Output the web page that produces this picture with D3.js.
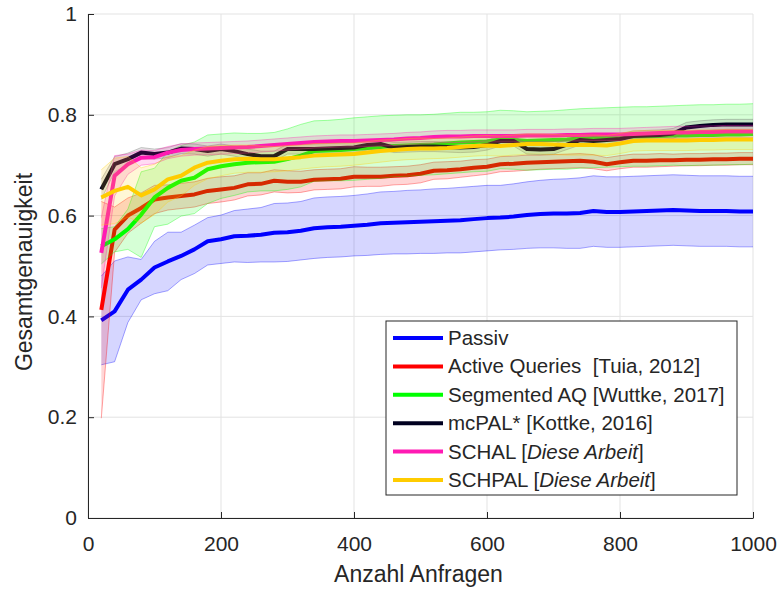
<!DOCTYPE html>
<html>
<head>
<meta charset="utf-8">
<script src="https://cdn.jsdelivr.net/npm/d3@7"></script>
<style>
  body { margin: 0; background: #fff; }
  svg text { font-family: "Liberation Sans", Arial, Helvetica, sans-serif; fill: #262626; }
  .grid line { stroke: #e3e3e3; stroke-width: 1; }
  .axis path, .axis line { stroke: #262626; }
</style>
</head>
<body>
<div id="chart"></div>
<script>
//data
var queries = [20, 40, 60, 80, 100, 120, 140, 160, 180, 200,
  220, 240, 260, 280, 300, 320, 340, 360, 380, 400,
  420, 440, 460, 480, 500, 520, 540, 560, 580, 600,
  620, 640, 660, 680, 700, 720, 740, 760, 780, 800,
  820, 840, 860, 880, 900, 920, 940, 960, 980, 1000];

var passivMean = [.392, .41, .453, .473, .497, .509, .52, .533, .549, .553,
  .559, .56, .562, .566, .567, .57, .575, .577, .578, .58,
  .582, .585, .586, .587, .588, .589, .59, .591, .593, .595,
  .596, .598, .601, .603, .604, .604, .605, .609, .607, .607,
  .608, .609, .61, .611, .61, .609, .609, .609, .608, .608];
var passivSd = [.088, .10, .065, .04, .052, .058, .047, .048, .047, .048,
  .051, .053, .054, .058, .058, .058, .06, .06, .06, .06,
  .061, .062, .062, .063, .063, .064, .064, .065, .065, .065,
  .064, .065, .066, .067, .068, .069, .07, .07, .07, .07,
  .07, .07, .07, .07, .07, .07, .07, .07, .07, .07];

var aqMean = [.413, .572, .60, .615, .632, .636, .639, .642, .649, .652,
  .655, .662, .663, .669, .667, .667, .671, .672, .673, .677,
  .677, .677, .679, .68, .683, .689, .69, .692, .695, .697,
  .702, .703, .705, .706, .707, .708, .709, .707, .702, .706,
  .709, .709, .71, .71, .711, .711, .712, .712, .713, .713];
var aqSd = [.215, .045, .035, .03, .028, .025, .025, .025, .025, .025,
  .024, .023, .022, .022, .022, .021, .02, .02, .02, .02,
  .019, .019, .018, .018, .018, .017, .017, .016, .016, .015,
  .015, .015, .015, .014, .014, .014, .014, .014, .013, .013,
  .013, .013, .013, .012, .012, .012, .012, .012, .012, .012];

var segMean = [.539, .553, .573, .602, .636, .655, .669, .675, .692, .698,
  .702, .705, .706, .707, .712, .719, .728, .729, .73, .732,
  .734, .736, .738, .739, .74, .741, .743, .745, .746, .747,
  .751, .75, .748, .749, .75, .751, .753, .754, .755, .756,
  .757, .757, .758, .759, .759, .76, .76, .761, .761, .762];
var segSd = [.035, .025, .04, .085, .058, .072, .07, .071, .068, .064,
  .062, .058, .057, .058, .06, .062, .06, .06, .061, .062,
  .062, .062, .061, .061, .06, .06, .06, .06, .059, .059,
  .058, .058, .058, .058, .058, .059, .059, .059, .059, .059,
  .059, .059, .059, .059, .06, .06, .06, .06, .06, .06];

var mcpalMean = [.652, .702, .712, .725, .722, .725, .733, .732, .728, .732,
  .728, .722, .718, .718, .732, .732, .732, .733, .734, .735,
  .74, .742, .735, .736, .737, .737, .736, .735, .736, .74,
  .748, .748, .732, .731, .732, .741, .75, .748, .75, .752,
  .758, .759, .76, .763, .775, .778, .78, .781, .781, .781];
var mcpalSd = [.02, .015, .012, .01, .01, .01, .01, .01, .01, .01,
  .01, .01, .01, .01, .01, .01, .01, .01, .01, .01,
  .01, .01, .01, .01, .01, .01, .01, .01, .01, .01,
  .01, .01, .01, .01, .01, .01, .01, .01, .01, .01,
  .01, .01, .01, .01, .01, .01, .01, .01, .01, .01];

var schalMean = [.526, .679, .702, .715, .716, .725, .73, .732, .733, .734,
  .735, .736, .738, .74, .742, .744, .746, .747, .748, .748,
  .749, .75, .751, .753, .754, .756, .757, .757, .758, .758,
  .758, .758, .759, .759, .759, .76, .76, .761, .761, .761,
  .762, .763, .764, .765, .765, .766, .766, .767, .767, .767];
var schalSd = [.07, .04, .02, .015, .013, .012, .012, .012, .012, .012,
  .012, .012, .012, .012, .012, .012, .012, .012, .012, .012,
  .012, .012, .012, .012, .012, .012, .012, .012, .012, .012,
  .012, .012, .012, .012, .012, .012, .012, .012, .012, .012,
  .012, .012, .012, .012, .012, .012, .012, .012, .012, .012];

var schpalMean = [.636, .649, .657, .64, .652, .672, .679, .695, .705, .709,
  .712, .713, .712, .712, .714, .716, .719, .72, .721, .722,
  .725, .728, .73, .732, .733, .733, .734, .736, .738, .739,
  .738, .74, .742, .742, .741, .74, .74, .74, .739, .743,
  .748, .749, .749, .749, .749, .75, .75, .751, .751, .751];
var schpalSd = [.055, .065, .06, .055, .05, .045, .04, .035, .032, .03,
  .028, .027, .026, .025, .025, .024, .024, .023, .023, .022,
  .022, .022, .021, .021, .021, .02, .02, .02, .02, .02,
  .02, .02, .02, .02, .02, .02, .02, .02, .02, .02,
  .02, .02, .02, .02, .02, .02, .02, .02, .02, .02];

var xTicks = [0, 200, 400, 600, 800, 1000];
var yTicks = [0, 0.2, 0.4, 0.6, 0.8, 1];
var xTickLabels = ["0", "200", "400", "600", "800", "1000"];
var yTickLabels = ["0", "0.2", "0.4", "0.6", "0.8", "1"];

var series = [
  {name: ["Passiv"], mean: passivMean, sd: passivSd, color: "#0000ff", fill: "#0000ff"},
  {name: ["Active Queries  [Tuia, 2012]"], mean: aqMean, sd: aqSd, color: "#ff0000", fill: "#ff0000"},
  {name: ["Segmented AQ [Wuttke, 2017]"], mean: segMean, sd: segSd, color: "#00ff00", fill: "#00ff00"},
  {name: ["mcPAL* [Kottke, 2016]"], mean: mcpalMean, sd: mcpalSd, color: "#000020", fill: "#666666"},
  {name: ["SCHAL [", "Diese Arbeit", "]"], mean: schalMean, sd: schalSd, color: "#ff1ab3", fill: "#ff1ab3"},
  {name: ["SCHPAL [", "Diese Arbeit", "]"], mean: schpalMean, sd: schpalSd, color: "#ffcc00", fill: "#ffcc00"}
];

//margin convention
var margin = {top: 14, right: 29, bottom: 73, left: 88},
    width = 782 - margin.left - margin.right,
    height = 591 - margin.top - margin.bottom;

var xScale = d3.scaleLinear().domain([0, 1000]).range([0, width]);
var yScale = d3.scaleLinear().domain([0, 1]).range([height, 0]);

var svg = d3.select("#chart").append("svg")
    .attr("width", 782)
    .attr("height", 591)
  .append("g")
    .attr("transform", "translate(" + margin.left + "," + margin.top + ")");

//grid
svg.append("g").attr("class", "grid")
  .selectAll("line").data(xTicks).enter().append("line")
  .attr("x1", d => xScale(d)).attr("x2", d => xScale(d))
  .attr("y1", 0).attr("y2", height);
svg.append("g").attr("class", "grid")
  .selectAll("line").data(yTicks).enter().append("line")
  .attr("x1", 0).attr("x2", width)
  .attr("y1", d => yScale(d)).attr("y2", d => yScale(d));

//bands and lines
var area = d3.area()
  .x((d, i) => xScale(queries[i]))
  .y0(d => yScale(d[0] - d[1]))
  .y1(d => yScale(d[0] + d[1]));
var line = d3.line()
  .x((d, i) => xScale(queries[i]))
  .y(d => yScale(d));

series.forEach(function(s) {
  var pts = s.mean.map((m, i) => [m, s.sd[i]]);
  svg.append("path")
    .datum(pts)
    .attr("d", area)
    .attr("fill", s.fill)
    .attr("fill-opacity", 0.16)
    .attr("stroke", "none");
  // thin band edges
  svg.append("path")
    .datum(pts.map(d => d[0] + d[1]))
    .attr("d", line)
    .attr("fill", "none").attr("stroke", s.fill).attr("stroke-opacity", 0.35).attr("stroke-width", 1);
  svg.append("path")
    .datum(pts.map(d => d[0] - d[1]))
    .attr("d", line)
    .attr("fill", "none").attr("stroke", s.fill).attr("stroke-opacity", 0.35).attr("stroke-width", 1);
  svg.append("path")
    .datum(s.mean)
    .attr("d", line)
    .attr("fill", "none")
    .attr("stroke", s.color)
    .attr("stroke-width", 4)
    .attr("stroke-linejoin", "round");
});

//axes
var xAxis = svg.append("g").attr("class", "axis")
  .attr("transform", "translate(0," + height + ")")
  .call(d3.axisBottom(xScale).tickValues(xTicks).tickSizeInner(-6).tickSizeOuter(0).tickPadding(18)
    .tickFormat((d, i) => xTickLabels[i]));
var yAxis = svg.append("g").attr("class", "axis")
  .call(d3.axisLeft(yScale).tickValues(yTicks).tickSizeInner(-6).tickSizeOuter(0).tickPadding(11)
    .tickFormat((d, i) => yTickLabels[i]));
svg.selectAll(".axis text").style("font-size", "21px").attr("fill", "#262626");
xAxis.selectAll("text").attr("dy", "0.71em");

// x label
svg.append("text")
  .attr("x", 330.5)
  .attr("y", height + 64)
  .style("text-anchor", "middle")
  .style("font-size", "23px")
  .text("Anzahl Anfragen");

// y label
svg.append("text")
  .attr("transform", "rotate(-90)")
  .attr("x", -(yScale(0.5)) - 6)
  .attr("y", -56)
  .style("text-anchor", "middle")
  .style("font-size", "23px")
  .text("Gesamtgenauigkeit");

//legend
var legend = svg.append("g").attr("transform", "translate(298,307)");
legend.append("rect")
  .attr("x", 0).attr("y", 0)
  .attr("width", 351).attr("height", 174)
  .attr("fill", "#fff").attr("stroke", "#262626").attr("stroke-width", 1);

series.forEach(function(s, i) {
  var ly = 17 + i * 28.4;
  legend.append("line")
    .attr("x1", 7).attr("x2", 57)
    .attr("y1", ly).attr("y2", ly)
    .attr("stroke", s.color).attr("stroke-width", 4);
  var t = legend.append("text")
    .attr("x", 62).attr("y", ly + 7)
    .style("font-size", "20.5px")
    .style("white-space", "pre");
  s.name.forEach(function(part, j) {
    t.append("tspan").text(part).style("font-style", j === 1 ? "italic" : "normal");
  });
});
</script>
</body>
</html>
